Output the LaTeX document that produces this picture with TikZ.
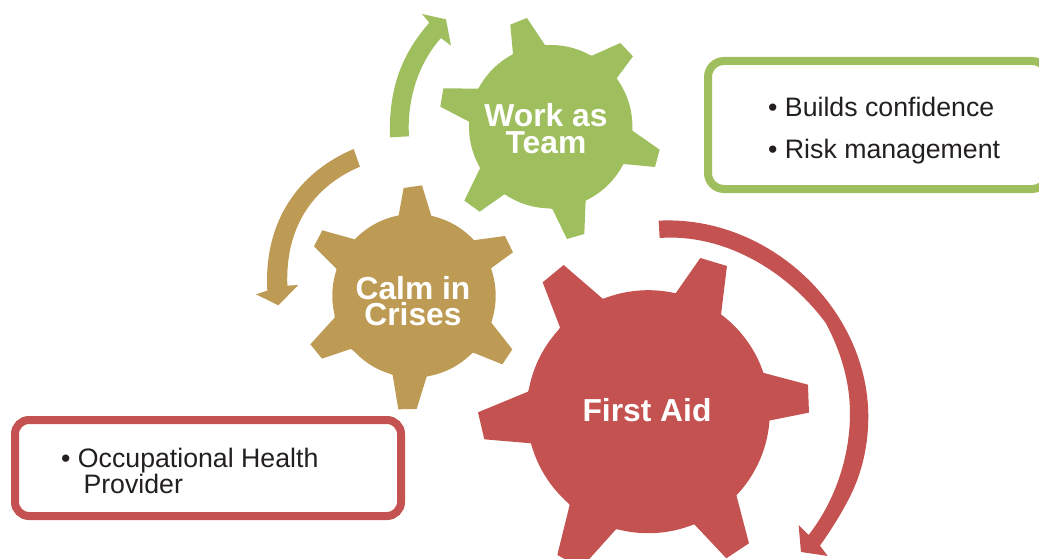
\documentclass[tikz,border=0pt]{standalone}
\usepackage{fontspec}
\setmainfont{Liberation Sans}
\definecolor{gearGreen}{HTML}{9FBE5D}
\definecolor{gearTan}{HTML}{BE9B54}
\definecolor{gearRed}{HTML}{C45250}
\definecolor{ink}{HTML}{231F20}
\tikzset{
  geartext/.style={text=white,font=\bfseries\fontsize{31.8}{27}\selectfont,align=center,inner sep=0pt},
  cardtext/.style={text=ink,font=\fontsize{26.7}{26}\selectfont,align=left,inner sep=0pt,anchor=base west},
  zoomA/.style={shift={(380,0)},x=0.3333pt,y=-0.3333pt},
  zoomB/.style={shift={(250,140)},x=0.3333pt,y=-0.3333pt},
  zoomC/.style={shift={(470,210)},x=0.3333pt,y=-0.3333pt},
}
\begin{document}
\begin{tikzpicture}[x=1pt,y=-1pt]
\useasboundingbox (0,0) rectangle (1039,559);
\clip (0,0) rectangle (1039,559);
% Green gear
\fill[gearGreen] (550.7,126.7) circle[radius=81.7pt];
\begin{scope}[zoomA]
\fill[gearGreen] (399,162)--(391,74)--(441,54)--(495,135)--(636,167)--(721,129)--(759,169)--(710,235)--(757,392)--(839,449)--(825,501)--(730,492)--(617,600)--(613,702)--(561,717)--(517,627)--(373,583)--(299,635)--(253,602)--(300,505)--(267,365)--(181,320)--(190,265)--(295,266)--cycle;
\fill[gearGreen] (30,412)--(87,409) .. controls (80,300) and (115,190) .. (183,114)--(213,137)--(198,58)--(126,42)--(148,68) .. controls (72,155) and (25,255) .. (30,412)--cycle;
\end{scope}
% Tan gear
\fill[gearTan] (414,295.7) circle[radius=81.7pt];
\begin{scope}[zoomB]
\fill[gearTan] (445,231)--(461,144)--(516,136)--(545,231)--(669,301)--(765,288)--(789,337)--(723,385)--(724,548)--(787,628)--(757,673)--(670,638)--(530,710)--(500,807)--(445,808)--(428,705)--(302,627)--(216,656)--(181,613)--(254,533)--(260,387)--(192,319)--(217,271)--(317,299)--cycle;
\fill[gearTan] (311,27)--(330,80) .. controls (200,135) and (105,250) .. (112,437)--(145,435)--(85,496)--(18,463)--(52,452) .. controls (40,240) and (150,95) .. (311,27)--cycle;
\end{scope}
% Red gear
\fill[gearRed] (648.3,411.7) circle[radius=121.5pt];
\begin{scope}[zoomC]
\fill[gearRed] (617,250)--(691,144)--(771,168)--(753,315)--(878,488)--(1014,524)--(1017,608)--(897,632)--(799,855)--(837,1000)--(769,1045)--(672,942)--(438,958)--(350,1056)--(300,1056)--(262,1035)--(299,885)--(183,700)--(43,688)--(24,607)--(174,545)--(270,352)--(218,217)--(281,165)--(398,266)--cycle;
\fill[gearRed] (566,32)--(569,84) .. controls (760,70) and (950,180) .. (1068,340) .. controls (1110,420) and (1140,510) .. (1140,610) .. controls (1140,750) and (1090,880) .. (1016,975)--(986,945)--(993,1026)--(1073,1038)--(1050,1007) .. controls (1080,965) and (1115,910) .. (1140,860) .. controls (1175,790) and (1195,710) .. (1195,620) .. controls (1195,300) and (900,15) .. (566,32)--cycle;
\end{scope}
% Gear labels
\node[geartext,anchor=base] (team) at (546,126.7) {Work as};
\node[geartext,anchor=base] (team2) at (546,153.7) {Team};
\node[geartext,anchor=base] (calm) at (413,299.7) {Calm in};
\node[geartext,anchor=base] (calm2) at (413,325.5) {Crises};
\node[geartext,anchor=base] (aid) at (647,421.7) {First Aid};
% Cards
\draw[gearGreen,line width=8pt,fill=white,rounded corners=16pt] (708,61) rectangle (1048,189);
\draw[gearRed,line width=8pt,fill=white,rounded corners=14pt] (15,420) rectangle (401,516);
\node[cardtext] (b1) at (768,116.5) {• Builds confidence};
\node[cardtext] (b2) at (768,158.5) {• Risk management};
\node[cardtext] (o1) at (61,467) {• Occupational Health};
\node[cardtext] (o2) at (83.3,493) {Provider};
\end{tikzpicture}
\end{document}
